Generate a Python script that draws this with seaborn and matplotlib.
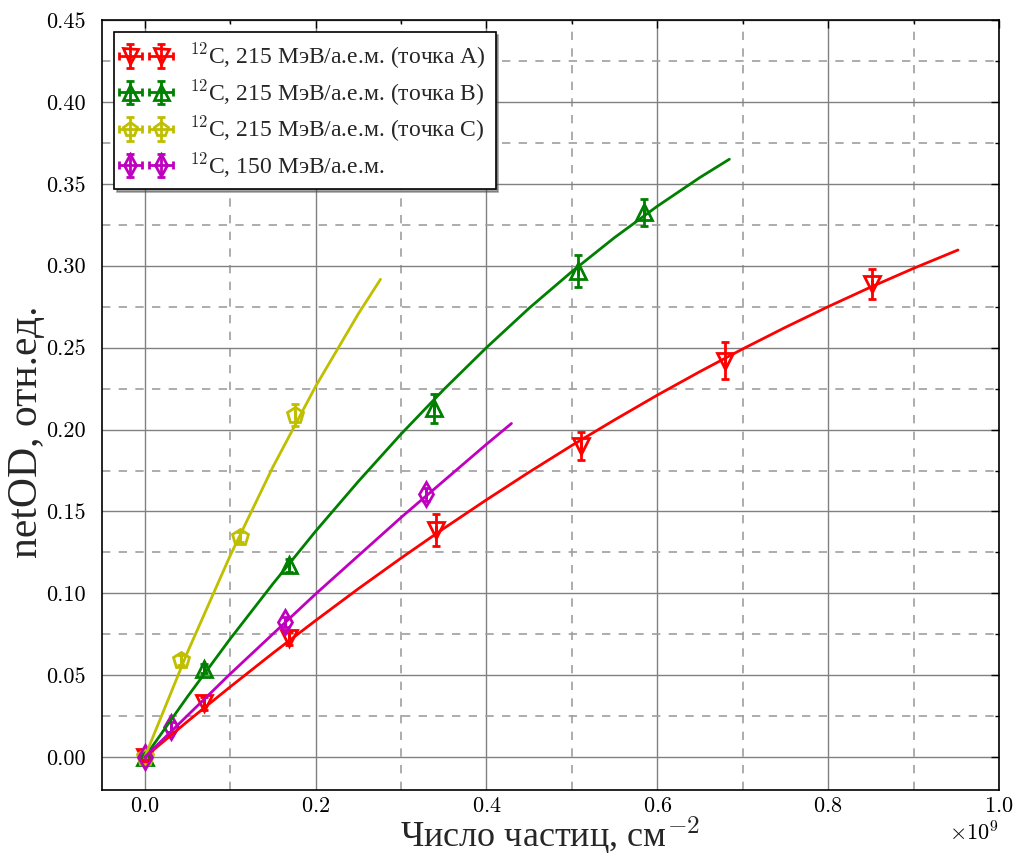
import numpy as np
import pandas as pd
import matplotlib
matplotlib.use("Agg")
import matplotlib.pyplot as plt
import seaborn as sns
from matplotlib.ticker import MultipleLocator, FormatStrFormatter

sns.set_theme(style="white")
plt.rcParams["font.family"] = ["cmr10", "Liberation Serif"]
plt.rcParams["mathtext.fontset"] = "cm"
plt.rcParams["axes.formatter.use_mathtext"] = True
plt.rcParams["axes.unicode_minus"] = False

SCALE = 1e9
CYR = "Liberation Serif"

# ---- measured points (x in 1e9 particles/cm^2) ----
a_x = [0.0, 0.069, 0.169, 0.341, 0.511, 0.679, 0.851]
a_y = [0.000, 0.033, 0.0725, 0.1386, 0.1898, 0.2421, 0.2888]
a_e = [0.003, 0.004, 0.004, 0.0097, 0.0085, 0.0113, 0.009]

b_x = [0.0, 0.069, 0.169, 0.339, 0.507, 0.584]
b_y = [0.000, 0.0541, 0.1172, 0.2130, 0.2970, 0.3325]
b_e = [0.003, 0.003, 0.004, 0.009, 0.0098, 0.0082]

c_x = [0.0, 0.0426, 0.111, 0.1754]
c_y = [0.000, 0.0592, 0.1345, 0.2088]
c_e = [0.003, 0.003, 0.003, 0.0069]

d_x = [0.0, 0.0313, 0.1637, 0.329]
d_y = [0.000, 0.0185, 0.0826, 0.1604]
d_e = [0.003, 0.003, 0.003, 0.004]

# ---- fitted curves ----
fa_x = [0.0, 0.05, 0.1, 0.15, 0.2, 0.25, 0.3, 0.35, 0.4, 0.45, 0.5, 0.55, 0.6,
        0.65, 0.7, 0.75, 0.8, 0.85, 0.9, 0.952]
fa_y = [0.0, 0.0218, 0.0429, 0.0635, 0.0834, 0.1028, 0.1215, 0.1396, 0.1571,
        0.1740, 0.1903, 0.2059, 0.2210, 0.2354, 0.2492, 0.2624, 0.2750, 0.2870,
        0.2984, 0.3096]
fb_x = [0.0, 0.05, 0.1, 0.15, 0.2, 0.25, 0.3, 0.35, 0.4, 0.45, 0.5, 0.55, 0.6,
        0.65, 0.6844]
fb_y = [0.0, 0.0369, 0.0722, 0.1058, 0.1379, 0.1683, 0.1972, 0.2244, 0.2500,
        0.2741, 0.2964, 0.3172, 0.3363, 0.3539, 0.3650]
fc_x = [0.0, 0.05, 0.1, 0.15, 0.2, 0.25, 0.276]
fc_y = [0.0, 0.0640, 0.1230, 0.1771, 0.2263, 0.2706, 0.2917]
fd_x = [0.0, 0.1, 0.2, 0.3, 0.4, 0.4293]
fd_y = [0.0, 0.0508, 0.0996, 0.1463, 0.1910, 0.2037]

labels = [
    r"$^{12}$C, 215 МэВ/а.е.м. (точка А)",
    r"$^{12}$C, 215 МэВ/а.е.м. (точка В)",
    r"$^{12}$C, 215 МэВ/а.е.м. (точка С)",
    r"$^{12}$C, 150 МэВ/а.е.м.",
]
colors = ["#ff0000", "#008000", "#bfbf00", "#bf00bf"]
markers = ["v", "^", "p", "d"]

fig = plt.figure(figsize=(10.22, 8.61), dpi=100)
ax = fig.add_axes([0.0998, 0.0825, 0.8777, 0.8943])

pts = [(a_x, a_y, a_e), (b_x, b_y, b_e), (c_x, c_y, c_e), (d_x, d_y, d_e)]
fits = [(fa_x, fa_y), (fb_x, fb_y), (fc_x, fc_y), (fd_x, fd_y)]

for (px, py, pe), (fx, fy), lab, col, mk in zip(pts, fits, labels, colors, markers):
    xx = np.array(px) * SCALE
    ax.errorbar(xx, py, yerr=pe, xerr=np.zeros(len(px)), fmt=mk, color=col,
                mfc="none", mec=col, ms=12, mew=2, elinewidth=2, capsize=3,
                capthick=2, label=lab, zorder=3)
    df = pd.DataFrame({"x": np.array(fx) * SCALE, "y": fy})
    sns.lineplot(data=df, x="x", y="y", ax=ax, color=col, lw=2, sort=False,
                 estimator=None, legend=False, zorder=4)

ax.set_xlim(-0.05 * SCALE, 1.0 * SCALE)
ax.set_ylim(-0.02, 0.45)
ax.xaxis.set_major_locator(MultipleLocator(0.2 * SCALE))
ax.xaxis.set_minor_locator(MultipleLocator(0.1 * SCALE))
ax.yaxis.set_major_locator(MultipleLocator(0.05))
ax.yaxis.set_minor_locator(MultipleLocator(0.025))
ax.yaxis.set_major_formatter(FormatStrFormatter("%.2f"))

ax.grid(which="major", color="0.5", ls="-", lw=1.0)
ax.grid(which="minor", color="0.62", ls=(0, (5, 5)), lw=1.2)
ax.set_axisbelow(True)

ax.tick_params(which="both", direction="in", top=True, right=True,
               labelsize=16, colors="black", labelfontfamily="cmr10")
ax.tick_params(axis="y", which="major", pad=12)
ax.tick_params(axis="x", which="major", pad=5)
ax.tick_params(which="major", length=6, width=1)
ax.tick_params(which="minor", length=3, width=1)
ax.xaxis.get_offset_text().set_fontsize(16)
for s in ax.spines.values():
    s.set_color("black")
    s.set_linewidth(1.2)

ax.set_xlabel(r"Число частиц, см$^{-2}$", fontsize=26, family=CYR, labelpad=-1)
ax.set_ylabel("netOD, отн.ед.", fontsize=30, family=CYR)
ax.yaxis.set_label_coords(-0.062, 0.465)

leg = ax.legend(loc="upper left", numpoints=2, prop={"family": CYR, "size": 17},
                fancybox=False, shadow=True, frameon=True, edgecolor="black",
                handlelength=1.9, handletextpad=0.9, labelspacing=0.27,
                borderaxespad=0.5, markerscale=0.9, borderpad=0.4)
leg.get_frame().set_linewidth(1.2)

fig.savefig("out.png", dpi=100)
